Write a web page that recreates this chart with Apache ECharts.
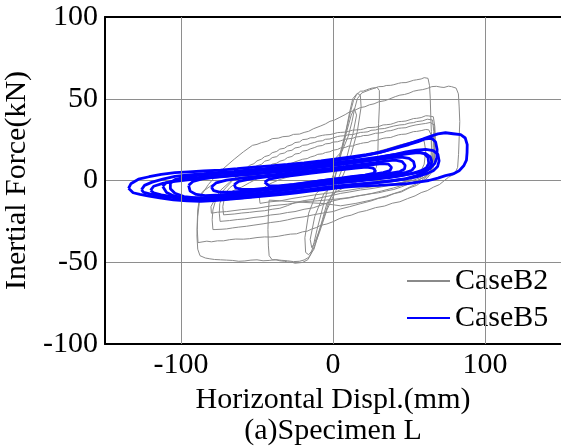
<!DOCTYPE html>
<html>
<head>
<meta charset="utf-8">
<script src="https://cdn.jsdelivr.net/npm/echarts@6/dist/echarts.min.js"></script>
<style>
  html, body { margin: 0; padding: 0; background: #ffffff; overflow: hidden; }
  #chart { width: 561px; height: 446px; }
</style>
</head>
<body>
<div id="chart"></div>
<script>
// Axis ticks and labels
const xLabelValues = [-100, 0, 100];
const xGridValues = [-100, 0, 100];
const yTicks = [-100, -50, 0, 50, 100];

// CaseB2: hysteresis loops, [displacement (mm), force (kN)]
const b2LoopA = [
  [-88.8,-38],[-89.3,-30],[-89,-22],[-88,-14],[-86,-8],[-82,-2.5],[-77,3],[-71,8.2],[-65,13],[-59,17.5],
  [-53,21.5],[-50,22.1],[-47,23.2],[-43,24.1],[-40,25.6],[-36,25.9],[-33,26.8],[-29,27.1],[-26,28.2],[-22,28.4],
  [-19,29.4],[-16,30.1],[-13,31.6],[-8,33.4],[-5,34.6],[-2,36.2],[1,37],[4,38.4],[8,40.3],[11,42],
  [14,42.8],[18,44.6],[21,45.1],[24,46.3],[27,46.9],[30,48.1],[34,48.8],[37,49.8],[41,51.3],[44,52.2],
  [47,52.6],[50,53.4],[53,54.6],[56,55.2],[59,55.6],[62,56.3],[65,57.4],[68,57.6],[71,57.1],[73,56.9],
  [76,57.7],[78,57.4],[81,56.5],[82.5,53],[83,45],[83.4,36],[83,26],[82.6,16],[82,8],[80,4],[76,2],
  [70,-2.5],[66,-4.1],[62,-6.2],[58,-7.4],[54,-9.4],[49,-11.1],[44,-13],[39,-13.9],[34,-15.6],[28,-16.6],
  [22,-18.4],[17,-19.4],[12,-21.2],[8,-22],[4,-23.4],[0,-25.2],[-4,-26.6],[-8,-27.4],[-11,-28.8],[-14,-29.7],
  [-17,-31],[-20,-31.4],[-24,-32.6],[-28,-32.8],[-32,-33.4],[-36,-34.1],[-41,-34.6],[-45,-34.5],[-50,-34.9],[-55,-35.6],
  [-59,-35.9],[-64,-35.8],[-68,-36.2],[-72,-36.9],[-76,-36.9],[-80,-37.5],[-83,-37.1],[-88.8,-38]
];
const b2LoopB = [
  [-42,-12],[-42.5,-20],[-42.8,-30],[-42.5,-40],[-42,-46],[-40,-48.5],[-37,-48.6],[-35,-49.1],[-32,-49.4],[-30,-49.8],
  [-27,-50],[-25,-50.6],[-22,-50.3],[-20,-50.1],[-16.5,-48.4],[-14.5,-45],[-12.5,-38],[-10.5,-30],[-8,-21],[-5.5,-12],
  [-3,-4],[0,3],[3,11],[6,21],[9,32],[11.5,42],[13.5,49],[15.5,52.5],[18,54.6],[20,54.7],
  [22,55.4],[24,56.1],[26,56.6],[28,56.7],[30,57.4],[33,57.5],[35,58.1],[38,58.2],[40,58.6],[43,59.4],
  [45,59.8],[48,59.9],[50,60.4],[53,61.3],[55,61.6],[58,62.1],[60,62.9],[62.5,62.5],[63.5,58],[64,50],
  [64.3,40],[64.7,30],[65,20],[65.5,12],[64.5,6],[62,2.5],[55,-2],[45,-6.5],[35,-9.5],[25,-12],
  [15,-14],[5,-15.5],[-5,-14.2],[-15,-13.6],[-25,-13.1],[-35,-12.4],[-42,-12]
];
const b2LoopC = [
  [-16,-47],[-19,-48.6],[-22,-49.4],[-26,-49.6],[-30,-49.1],[-34,-48.8],[-38,-48.4],[-42,-48.9],[-46,-49.1],[-50,-48.5],
  [-54,-48.7],[-58,-49.2],[-62,-49.4],[-66,-48.9],[-70,-48.7],[-74,-48.5],[-78,-48.3],[-81,-47.9],[-84,-47.4],[-87.5,-46],
  [-89,-42],[-89.5,-34],[-89.3,-26],[-89,-18],[-88,-12],[-86,-7],[-80,-3],[-70,0.2],[-60,2],[-50,3.6],
  [-40,5],[-30,6.6],[-20,8.4],[-10,10],[0,12],[6,18],[10,27],[12.5,36],[14,43],[16,50],
  [19,53.6],[24,55.4],[29,57],[30.5,55],[30.5,45],[30,35],[29.7,25],[29.5,15],[28.5,8],[26,4],
  [18,0.2],[8,-4],[0,-8],[-4,-14],[-7,-24],[-10,-34],[-12.5,-42],[-16,-47]
];
const b2LoopD = [
  [-79,-30],[-79.5,-24],[-79,-18],[-77.5,-13],[-75,-9],[-70,-4],[-65,1],[-60,6],[-57,7.4],[-55,9.2],
  [-52,10.3],[-50,12],[-47,13.1],[-45,14.6],[-42,15.4],[-40,17],[-37,17.8],[-35,19.2],[-32,19.7],[-30,21],
  [-27,21.9],[-25,23.2],[-22,23.6],[-20,25],[-17,25.3],[-15,26.1],[-12,26.2],[-10,27],[-7,27.6],[-5,27.9],
  [-2,28.1],[0,28.5],[3,29.3],[5,29.4],[8,29.6],[10,30],[13,30.8],[15,30.9],[18,31.1],[20,31.5],
  [23,32.4],[25,32.4],[28,32.6],[30,33],[33,34],[35,34.1],[38,34.4],[40,35],[43,36],[45,36.1],
  [48,36.4],[50,37],[53,37.9],[55,38],[58,38.5],[61,39.6],[63,39.5],[66,39],[67,33],[67.3,25],
  [67,18],[66.5,10],[65,5],[62,1.5],[55,-3],[50,-4.6],[45,-7],[40,-8.1],[35,-10],[30,-10.9],
  [25,-12.5],[18,-14.2],[11,-16],[5,-17.4],[0,-19],[-6,-19.8],[-13,-21],[-19,-22.2],[-25,-23],[-30,-24.1],
  [-35,-25],[-41,-25.7],[-46,-26.5],[-52,-27.3],[-57,-28],[-62,-28.5],[-66,-29],[-70,-29.6],[-73,-29.8],[-77.6,-30],
  [-79,-30]
];
const b2LoopE = [
  [-74.3,-25],[-74.8,-20],[-74.5,-14],[-72,-9],[-68,-4.5],[-64,-1.6],[-60,0],[-55,2.6],[-50,5],[-47,5.9],
  [-45,7.3],[-42,8.4],[-40,10],[-37,10.6],[-35,11.8],[-32,12.6],[-30,14],[-27,14.7],[-25,16.2],[-22,16.6],
  [-20,18],[-17,18.4],[-15,19.3],[-12,20.2],[-10,21],[-7,21.4],[-5,22.4],[-2,22.7],[0,23.5],[3,23.7],
  [5,24.3],[8,25.2],[10,25.5],[13,25.8],[15,26.6],[18,26.9],[20,27.5],[23,27.6],[25,28.1],[28,28.9],
  [30,29],[33,29.4],[35,30.2],[38,30.5],[40,31],[43,31.9],[45,32.1],[48,32.3],[50,33],[54,33.9],
  [58,34.5],[61,34.9],[64,35.5],[66.5,34],[67,28],[66.8,20],[66,12],[64.5,6],[61,2.5],[56,0.2],
  [52,-1.5],[46,-2.8],[40,-4.5],[32,-6.4],[25,-8],[18,-9.1],[11,-10.6],[5,-11.4],[0,-12.5],[-7,-14.8],
  [-13,-16.7],[-19,-17.6],[-25,-19],[-30,-19.6],[-35,-20.5],[-41,-21.1],[-46,-22],[-52,-22.6],[-58,-23.5],[-63,-23.9],
  [-68,-24.5],[-74.3,-25]
];
const b2LoopF = [
  [-72,-21],[-72.5,-16],[-71.5,-11],[-68,-7.4],[-64,-5.4],[-60,-4],[-55,-1.4],[-50,1],[-45,3.4],[-40,5.5],
  [-35,7.7],[-30,9.5],[-25,11.4],[-20,13],[-17,13.4],[-15,14.3],[-12,15.1],[-10,16],[-7,16.3],[-5,17.1],
  [-2,17.6],[0,18.5],[3,19],[5,19.9],[8,20.2],[10,21],[13,21.1],[15,21.9],[18,22.6],[20,23],
  [23,23.3],[25,24.2],[28,24.4],[30,25],[33,25.8],[35,26.1],[38,26.3],[40,27],[43,27.9],[45,28.2],
  [48,28.4],[50,29],[53,29.9],[55,30],[58,30.5],[61,31.2],[63,31],[64.5,28],[64.8,20],[64.3,12],
  [62.5,6],[59,2.5],[55,0.8],[50,-0.5],[45,-1.4],[40,-2.5],[32,-3.9],[25,-5],[18,-5.8],[11,-7],
  [5,-7.9],[0,-9],[-6,-10.1],[-13,-11.5],[-19,-12.3],[-25,-13.5],[-30,-15.4],[-35,-17],[-40,-17.6],[-45,-18.5],
  [-50,-18.9],[-55,-19.5],[-60,-19.9],[-65,-20.5],[-72,-21]
];
const b2LoopG = [
  [-80,-20],[-80.3,-16],[-78,-12],[-74,-6],[-68,-1],[-64,1.8],[-60,4],[-55,6.7],[-50,9],[-47,9.9],
  [-45,11.8],[-42,12.5],[-40,14],[-37,14.6],[-35,16.2],[-32,16.8],[-30,18],[-27,18.5],[-25,19.9],[-22,20.4],
  [-20,21.5],[-17,21.8],[-15,22.6],[-12,23.3],[-10,24],[-7,24.3],[-5,25.2],[-2,25.4],[0,26],[3,26.9],
  [5,27.2],[8,27.4],[10,28],[13,28.1],[15,28.6],[18,29.4],[20,29.5],[23,29.8],[25,30.7],[28,30.9],
  [30,31.5],[34,31.8],[37,32.6],[40,33.3],[44,34],[47,34.2],[50,35.1],[53,35.4],[55,36],[59,36.5],
  [62,37.5],[65.5,37],[66.3,30],[66,20],[65.5,12],[64,6],[60,2],[55,-0.2],[50,-2],[45,-3.9],
  [40,-5.5],[35,-6.4],[30,-7.5],[25,-8.1],[20,-9],[15,-9.6],[10,-10.5],[0,-11.6],[-10,-12.4],[-20,-13],
  [-30,-14.5],[-40,-15.4],[-50,-17],[-60,-17.8],[-70,-19],[-76,-19.4],[-80,-20]
];
const b2LoopH = [
  [-48,-14],[-48.5,-10],[-47,-6],[-44,-3.2],[-40,-1.4],[-35,0.6],[-30,2],[-25,3.4],[-20,4.6],[-15,6.2],
  [-10,8],[-5,9.1],[0,10.4],[5,11.6],[10,13],[15,14.1],[20,15.6],[25,16.7],[30,18],[35,19.2],
  [40,20.6],[45,22],[50,23.1],[55,24.5],[58,24.8],[60,24],[61,18],[60,10],[57,4],[53,1.4],
  [50,0],[45,-1.2],[40,-2],[32,-3.1],[25,-4],[18,-4.8],[10,-6],[3,-6.9],[-5,-8],[-12,-8.8],
  [-20,-10],[-27,-11],[-35,-12.5],[-42,-13.1],[-48,-14]
];
const b2LoopI = [
  [0,-2],[4,12],[8,28],[11,42],[13,50],[16,53.4],[18,52],[18.5,45],[16,30],[12,16],
  [7,4],[2,-6],[-4,-18],[-9,-32],[-13,-42],[-16,-45.4],[-18,-44],[-18.5,-35],[-16,-20],[-11,-8],
  [-5,-2.2],[0,-2]
];
const b2LoopJ = [
  [0,-3],[5,15],[9,30],[12,40],[14,44],[15.5,40],[13,28],[9,14],[3,0],[-3,-14],
  [-8,-28],[-12,-38],[-14,-41],[-15,-36],[-12,-22],[-6,-8],[0,-3]
];

// CaseB5: hysteresis loops, [displacement (mm), force (kN)]
const b5Loop1 = [
  [-134.5,-4.8],[-133,-2],[-128,0.8],[-121,2.3],[-113,3.8],[-104,4.8],[-95,5.3],[-85,5.8],[-74,6.3],[-63,7.2],
  [-52,8.2],[-41,9],[-30,9.8],[-19,10.8],[-8,12],[2,13.2],[12,14.5],[22,15.8],[31,17.2],[39,19.5],
  [46,21.5],[53,23.5],[59,25.3],[64,27],[69,28.5],[74,29.2],[79,28.6],[84,28],[87,26],[88.3,22],
  [88.2,17],[87.8,12.5],[86,9],[83,6],[79,4],[74,3],[69,1.5],[63,0],[56,-1],[48,-2],
  [39,-2.5],[30,-3],[21,-3.2],[12,-3.8],[3,-4.5],[-6,-5.5],[-15,-6.5],[-24,-7.5],[-33,-8.5],[-42,-9.3],
  [-51,-10],[-60,-10.8],[-69,-11.5],[-78,-12.3],[-87,-12.8],[-96,-12.5],[-105,-11.8],[-113,-10.8],[-121,-9.5],[-127,-8.5],
  [-131.5,-7.5],[-134.5,-4.8]
];
const b5Loop2 = [
  [-126,-5.7],[-124,-3],[-119,-1],[-112,0.8],[-104,2.5],[-95,3.5],[-85,4.2],[-75,5],[-65,5.6],[-55,6.5],
  [-45,7.3],[-35,8.2],[-25,9.2],[-15,10.3],[-5,11.3],[5,12.7],[15,14.2],[25,16],[34,18],[42,20],
  [50,22],[56,23.8],[61,25.5],[65,25.8],[67.5,23.5],[68.5,19],[68.3,14],[67,10.5],[64,7.5],[60,5],
  [55,3],[48,1.2],[40,0],[31,-1],[22,-1.8],[13,-2.5],[4,-3.3],[-5,-4.2],[-15,-5.5],[-25,-6.5],
  [-35,-7.8],[-45,-8.8],[-55,-9.5],[-65,-10.2],[-75,-10.8],[-85,-11.5],[-95,-11.3],[-105,-10.5],[-113,-9.5],[-120,-8.3],
  [-124.5,-7.3],[-126,-5.7]
];
const b5Loop3 = [
  [-112,-3.7],[-110,-1.5],[-104,0],[-96,1.2],[-86,2],[-76,2.8],[-66,3.5],[-56,4.3],[-46,5],[-36,5.8],
  [-26,6.8],[-16,7.8],[-6,9],[4,10.3],[14,11.7],[24,13],[33,14.6],[41,16],[48,17.5],[55,18.5],
  [61,19],[66,18.3],[69,16],[69.8,12],[68.8,8.5],[66,6],[61,4],[55,2.2],[47,0.8],[38,-0.3],
  [29,-1.3],[20,-2],[10,-2.8],[0,-3.7],[-10,-5],[-20,-6.2],[-30,-7.5],[-40,-8.5],[-50,-9.6],[-60,-10.6],
  [-70,-11.3],[-80,-11.8],[-90,-11.5],[-98,-10.8],[-105,-9.3],[-109.5,-7.3],[-112,-3.7]
];
const b5Loop4 = [
  [-107,-1.6],[-104,0.5],[-98,2],[-90,3],[-80,3.8],[-70,4.5],[-60,5.2],[-50,6],[-40,6.8],[-30,7.5],
  [-20,8.5],[-10,9.5],[0,10.7],[10,11.8],[20,13],[30,14.3],[38,15.5],[45,16.5],[51,17.3],[56,17.5],
  [60,16.5],[62.5,14],[63,10.5],[61.5,7.8],[58,6],[52,4.3],[45,3],[37,1.8],[28,0.8],[19,0],
  [10,-0.8],[0,-1.8],[-10,-3],[-20,-4.3],[-30,-5.5],[-40,-6.8],[-50,-8],[-60,-9],[-70,-9.8],[-80,-10.5],
  [-90,-10.7],[-98,-9.8],[-104,-7.8],[-107,-5],[-107,-1.6]
];
const b5Loop5 = [
  [-95,-3],[-92,-0.5],[-86,1],[-78,2],[-68,3],[-58,3.8],[-48,4.6],[-38,5.5],[-28,6.3],[-18,7.3],
  [-8,8.3],[2,9.5],[12,10.6],[22,11.8],[31,13],[39,14],[45,14.3],[50,13.5],[53,11.5],[53.8,8.5],
  [52,6.3],[48,5],[42,4],[34,3],[25,2],[16,1],[6,0],[-4,-1],[-14,-2.3],[-24,-3.5],
  [-34,-4.7],[-44,-5.8],[-54,-7],[-64,-8],[-74,-8.8],[-84,-9.3],[-90,-8.5],[-94,-6.5],[-95,-3]
];
const b5Loop6 = [
  [-80,-4],[-77,-1.5],[-70,0.2],[-60,1.5],[-50,2.5],[-40,3.5],[-30,4.5],[-20,5.5],[-10,6.5],[0,7.6],
  [10,8.8],[20,10],[28,11],[35,12],[41,12.5],[45.5,11.5],[47.5,9.2],[47,7],[44,5.5],[38,4.5],
  [30,3.5],[21,2.5],[12,1.5],[3,0.5],[-6,-0.5],[-16,-1.8],[-26,-3],[-36,-4.2],[-46,-5.3],[-56,-6.3],
  [-66,-7],[-74,-7.2],[-78.5,-6.2],[-80,-4]
];
const b5Loop7 = [
  [-65,-2.5],[-62,-0.5],[-54,1],[-44,2.2],[-34,3.2],[-24,4.2],[-14,5.2],[-4,6.3],[6,7.3],[16,8.5],
  [25,9.6],[32,10.4],[36.5,10],[38.5,8],[37.5,6],[33,4.8],[25,3.6],[16,2.5],[7,1.5],[-2,0.5],
  [-12,-0.7],[-22,-2],[-32,-3.3],[-42,-4.5],[-52,-5.5],[-60,-5.5],[-64,-4.5],[-65,-2.5]
];
const b5Loop8 = [
  [-45,-1],[-42,0.8],[-34,2.2],[-24,3.3],[-14,4.5],[-4,5.6],[6,6.6],[15,7.6],[22,8.2],[26.5,7.5],
  [28,5.8],[26.5,4.3],[21,3.3],[12,2.3],[3,1.2],[-6,0],[-16,-1.2],[-26,-2.4],[-36,-3.3],[-42,-3.3],
  [-45,-1]
];
const b5Loop9 = [
  [-120,-6],[-118,-3.5],[-112,-1.8],[-104,-0.5],[-94,0.5],[-84,1.4],[-74,2.2],[-64,3],[-54,3.8],[-44,4.6],
  [-34,5.5],[-24,6.5],[-14,7.6],[-4,8.7],[6,10],[16,11.4],[26,12.8],[35,14.2],[43,15.5],[50,16.4],
  [56,17],[61,16.5],[64,14.5],[65,11.5],[64,8.5],[61,6.5],[56,5],[49,3.7],[41,2.6],[32,1.6],
  [23,0.7],[14,-0.3],[4,-1.3],[-6,-2.5],[-16,-3.8],[-26,-5],[-36,-6.3],[-46,-7.4],[-56,-8.5],[-66,-9.4],
  [-76,-10.2],[-86,-10.7],[-96,-10.5],[-106,-9.8],[-113,-8.8],[-118,-7.6],[-120,-6]
];

const caseB2Loops = [b2LoopA, b2LoopB, b2LoopC, b2LoopD, b2LoopE, b2LoopF, b2LoopG, b2LoopH, b2LoopI, b2LoopJ];
const caseB5Loops = [b5Loop1, b5Loop2, b5Loop3, b5Loop4, b5Loop5, b5Loop6, b5Loop7, b5Loop8, b5Loop9];

const FONT = '"Liberation Serif", "Times New Roman", serif';
const GRID_COLOR = '#8e8e8e';
const B2_COLOR = '#8a8a8a';
const B5_COLOR = '#0000ff';

const series = [];

// Vertical grid lines at the labelled displacement ticks
series.push({
  type: 'line',
  data: [],
  z: 1,
  silent: true,
  markLine: {
    silent: true,
    symbol: 'none',
    animation: false,
    label: { show: false },
    lineStyle: { color: GRID_COLOR, width: 1, type: 'solid' },
    data: xGridValues.map(v => ({ xAxis: v }))
  }
});

caseB2Loops.forEach(loop => {
  series.push({
    type: 'line',
    name: 'CaseB2',
    data: loop,
    symbol: 'none',
    silent: true,
    z: 2,
    lineStyle: { color: B2_COLOR, width: 1 },
    itemStyle: { color: B2_COLOR }
  });
});

caseB5Loops.forEach(loop => {
  series.push({
    type: 'line',
    name: 'CaseB5',
    data: loop,
    symbol: 'none',
    silent: true,
    z: 3,
    lineStyle: { color: B5_COLOR, width: 2.8 },
    itemStyle: { color: B5_COLOR }
  });
});

const axisFont = { fontFamily: FONT, fontSize: 30, color: '#000000' };

const chart = echarts.init(document.getElementById('chart'), null, { renderer: 'canvas' });
chart.setOption({
  animation: false,
  backgroundColor: '#ffffff',
  grid: {
    left: 105, right: 0, top: 17, bottom: 102,
    outerBoundsMode: 'none',
    containLabel: false,
    show: false
  },
  legend: {
    data: ['CaseB2', 'CaseB5'],
    orient: 'vertical',
    left: 401,
    top: 261,
    itemWidth: 43,
    itemHeight: 14,
    itemGap: 7,
    selectedMode: false,
    itemStyle: { opacity: 0 },
    textStyle: axisFont
  },
  xAxis: [
    {
      type: 'value',
      min: -150,
      max: 150,
      interval: 50,
      name: 'Horizontal Displ.(mm)\n(a)Specimen L',
      nameLocation: 'middle',
      nameGap: 32,
      nameTextStyle: { fontFamily: FONT, fontSize: 30, color: '#000000', lineHeight: 31 },
      axisLine: { show: true, onZero: false, lineStyle: { color: '#000000', width: 2 } },
      axisTick: { show: false },
      splitLine: { show: false },
      axisLabel: {
        fontFamily: FONT, fontSize: 30, color: '#000000', margin: 6,
        formatter: v => (xLabelValues.indexOf(v) >= 0 ? String(v) : '')
      }
    },
    {
      // frame line along the top of the plot
      type: 'value',
      position: 'top',
      min: -150,
      max: 150,
      interval: 50,
      axisLine: { show: true, onZero: false, lineStyle: { color: '#000000', width: 2 } },
      axisTick: { show: false },
      axisLabel: { show: false },
      splitLine: { show: false }
    }
  ],
  yAxis: {
    type: 'value',
    min: yTicks[0],
    max: yTicks[yTicks.length - 1],
    interval: 50,
    name: 'Inertial Force(kN)',
    nameLocation: 'middle',
    nameRotate: 90,
    nameGap: 62,
    nameTextStyle: axisFont,
    axisLine: { show: true, onZero: false, lineStyle: { color: '#000000', width: 2 } },
    axisTick: { show: false },
    splitLine: { show: true, lineStyle: { color: GRID_COLOR, width: 1 } },
    axisLabel: { fontFamily: FONT, fontSize: 30, color: '#000000', margin: 7 }
  },
  series: series
});
</script>
</body>
</html>
